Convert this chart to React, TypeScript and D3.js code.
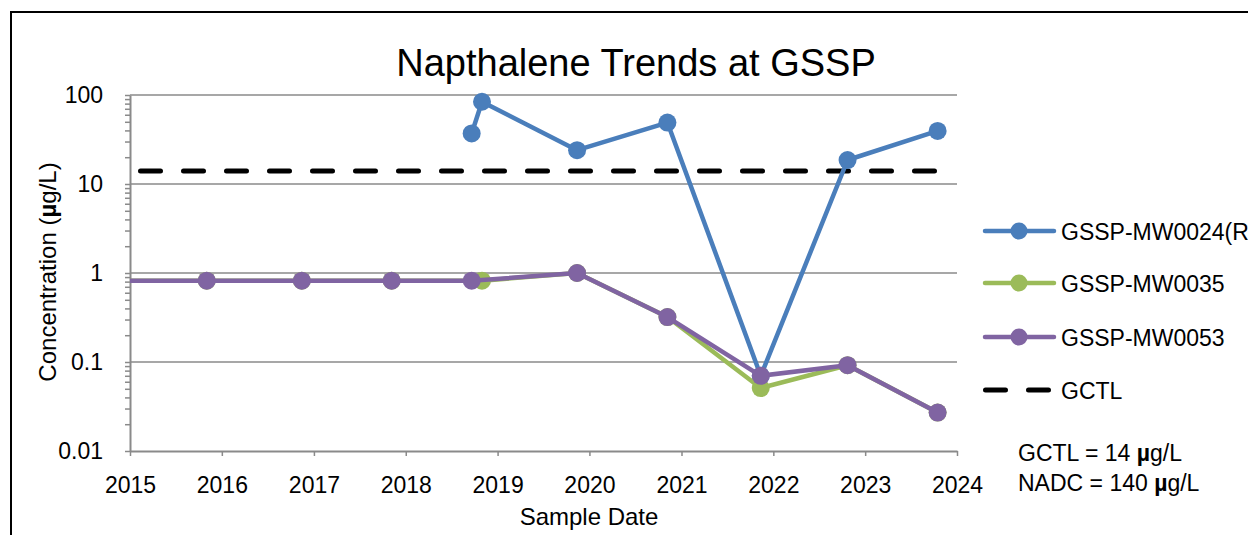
import React, { useEffect, useRef } from "react";
import * as d3 from "d3";

// x axis years, y axis decades
const yearTicks = ["2015", "2016", "2017", "2018", "2019", "2020", "2021", "2022", "2023", "2024"];
const yTicks = [0.01, 0.1, 1, 10, 100];

// GSSP-MW0024(R)
const mw0024Dates = ["2018-09-20", "2018-10-31", "2019-11-13", "2020-11-06", "2021-11-12", "2022-10-23", "2023-10-16"];
const mw0024Values = [37, 84, 24, 49, 0.07, 18.6, 39.5];

// GSSP-MW0035
const mw0035Dates = ["2014-11-01", "2015-11-02", "2016-11-14", "2017-11-06", "2018-10-31", "2019-11-13", "2020-11-06", "2021-11-12", "2022-10-23", "2023-10-16"];
const mw0035Values = [0.82, 0.82, 0.82, 0.82, 0.82, 1.0, 0.32, 0.051, 0.092, 0.027];

// GSSP-MW0053
const mw0053Dates = ["2014-11-01", "2015-11-02", "2016-11-14", "2017-11-06", "2018-09-20", "2019-11-13", "2020-11-06", "2021-11-12", "2022-10-23", "2023-10-16"];
const mw0053Values = [0.82, 0.82, 0.82, 0.82, 0.82, 1.0, 0.32, 0.07, 0.092, 0.027];

// GCTL
const gctlDates = ["2015-01-01", "2024-01-01"];
const gctlValues = [14, 14];

const seriesNames = ["GSSP-MW0024(R)", "GSSP-MW0035", "GSSP-MW0053", "GCTL"];
const seriesColors = ["#4A7EBB", "#9BBB59", "#8064A2", "#000000"];
const noteLines = ["GCTL = 14 ", "NADC = 140 "];

const FONT = "'Liberation Sans', Arial, sans-serif";

const App = () => {
  const svgRef = useRef(null);

  const margin = { top: 95, left: 130 };
  const width = 827,
    height = 356;

  useEffect(() => {
    const svg = d3.select(svgRef.current);
    svg.selectAll("*").remove();

    const parse = d3.timeParse("%Y-%m-%d");
    const x = d3.scaleTime()
      .domain([parse("2015-01-01"), parse("2024-01-01")])
      .range([0, width]);
    const y = d3.scaleLog().domain([0.01, 100]).range([height, 0]);

    // outer chart border
    svg.append("rect")
      .attr("x", 11).attr("y", 12)
      .attr("width", 1400).attr("height", 700)
      .style("fill", "white")
      .style("stroke", "black")
      .style("stroke-width", 2);

    svg.append("text")
      .attr("x", 636).attr("y", 76)
      .attr("text-anchor", "middle")
      .style("font-family", FONT)
      .style("font-size", "38px")
      .text("Napthalene Trends at GSSP");

    const g = svg.append("g").attr("transform", `translate(${margin.left}, ${margin.top})`);

    g.append("defs").append("clipPath").attr("id", "plotclip")
      .append("rect").attr("x", 0).attr("y", -20).attr("width", width + 10).attr("height", height + 40);

    // gridlines
    g.append("g")
      .selectAll("line")
      .data(yTicks.slice(1))
      .join("line")
      .attr("x1", 0).attr("x2", width)
      .attr("y1", d => y(d)).attr("y2", d => y(d))
      .style("stroke", "#8a8a8a")
      .style("stroke-width", 1.5);

    // minor ticks
    const minors: number[] = [];
    [0.01, 0.1, 1, 10].forEach(b => { for (let k = 2; k <= 9; k++) minors.push(b * k); });
    g.append("g")
      .call(d3.axisLeft(y).tickValues(minors).tickSize(5).tickFormat(() => ""))
      .call(a => a.select(".domain").remove())
      .selectAll("line").style("stroke", "#8a8a8a").style("stroke-width", 1.5);

    const yAxis = g.append("g")
      .call(d3.axisLeft(y).tickValues(yTicks).tickSize(5).tickSizeOuter(0).tickPadding(22).tickFormat(d => String(d)));
    yAxis.select(".domain").style("stroke", "#8a8a8a").style("stroke-width", 2);
    yAxis.selectAll("line").style("stroke", "#8a8a8a").style("stroke-width", 1.5);
    yAxis.selectAll("text").style("font-family", FONT).style("font-size", "23px").style("fill", "black");

    const xAxis = g.append("g")
      .attr("transform", `translate(0, ${height})`)
      .call(d3.axisBottom(x).tickValues(yearTicks.map(d => parse(d + "-01-01"))).tickSize(5).tickSizeOuter(0).tickPadding(21).tickFormat(d3.timeFormat("%Y")));
    xAxis.select(".domain").style("stroke", "#8a8a8a").style("stroke-width", 2);
    xAxis.selectAll("line").style("stroke", "#8a8a8a").style("stroke-width", 1.5);
    xAxis.selectAll("text").style("font-family", FONT).style("font-size", "23px").style("fill", "black");

    // axis titles
    svg.append("text")
      .attr("transform", `translate(56, 272) rotate(-90)`)
      .attr("text-anchor", "middle")
      .style("font-family", FONT)
      .style("font-size", "24px")
      .call(t => {
        t.append("tspan").text("Concentration (");
        t.append("tspan").style("font-weight", "bold").text("µ");
        t.append("tspan").text("g/L)");
      });

    svg.append("text")
      .attr("x", 589).attr("y", 525)
      .attr("text-anchor", "middle")
      .style("font-family", FONT)
      .style("font-size", "24px")
      .text("Sample Date");

    const plot = g.append("g").attr("clip-path", "url(#plotclip)");

    const line = d3.line<any>().x(d => x(d.date)).y(d => y(d.value));
    const toPts = (dates: string[], vals: number[]) => dates.map((d, i) => ({ date: parse(d), value: vals[i] }));

    // GCTL dashed
    plot.append("path")
      .datum(toPts(gctlDates, gctlValues))
      .attr("d", line)
      .style("fill", "none")
      .style("stroke", "black")
      .style("stroke-width", 5)
      .style("stroke-linecap", "round")
      .style("stroke-dasharray", "20 23")
      .style("stroke-dashoffset", 32.5);

    const series = [
      toPts(mw0024Dates, mw0024Values),
      toPts(mw0035Dates, mw0035Values),
      toPts(mw0053Dates, mw0053Values),
    ];
    series.forEach((pts, i) => {
      plot.append("path")
        .datum(pts)
        .attr("d", line)
        .style("fill", "none")
        .style("stroke", seriesColors[i])
        .style("stroke-width", 4.5)
        .style("stroke-linejoin", "round");
      plot.append("g")
        .selectAll("circle")
        .data(pts)
        .join("circle")
        .attr("cx", d => x(d.date))
        .attr("cy", d => y(d.value))
        .attr("r", 9)
        .style("fill", seriesColors[i]);
    });

    // legend
    const legendY = [231, 283, 337, 390];
    const lg = svg.append("g");
    seriesNames.forEach((name, i) => {
      const row = lg.append("g").attr("transform", `translate(0, ${legendY[i]})`);
      if (i < 3) {
        row.append("line")
          .attr("x1", 985).attr("x2", 1054).attr("y1", 0).attr("y2", 0)
          .style("stroke", seriesColors[i])
          .style("stroke-width", 4.5)
          .style("stroke-linecap", "round");
        row.append("circle").attr("cx", 1019).attr("cy", 0).attr("r", 8.5).style("fill", seriesColors[i]);
      } else {
        row.append("line")
          .attr("x1", 985.5).attr("x2", 1049).attr("y1", 0).attr("y2", 0)
          .style("stroke", "black")
          .style("stroke-width", 5)
          .style("stroke-linecap", "round")
          .style("stroke-dasharray", "20 23");
      }
      row.append("text")
        .attr("x", 1061).attr("y", 8.5)
        .style("font-family", FONT)
        .style("font-size", "23px")
        .text(name);
    });

    // note
    noteLines.forEach((t, i) => {
      svg.append("text")
        .attr("x", 1018).attr("y", 461 + i * 30)
        .style("font-family", FONT)
        .style("font-size", "23px")
        .call(s => {
          s.append("tspan").text(t);
          s.append("tspan").style("font-weight", "bold").text("µ");
          s.append("tspan").text("g/L");
        });
    });
  }, []);

  return (
    <svg
      ref={svgRef}
      width={1248}
      height={535}
      style={{ position: "absolute", left: 0, top: 0, background: "white" }}
    ></svg>
  );
};

export default App;
